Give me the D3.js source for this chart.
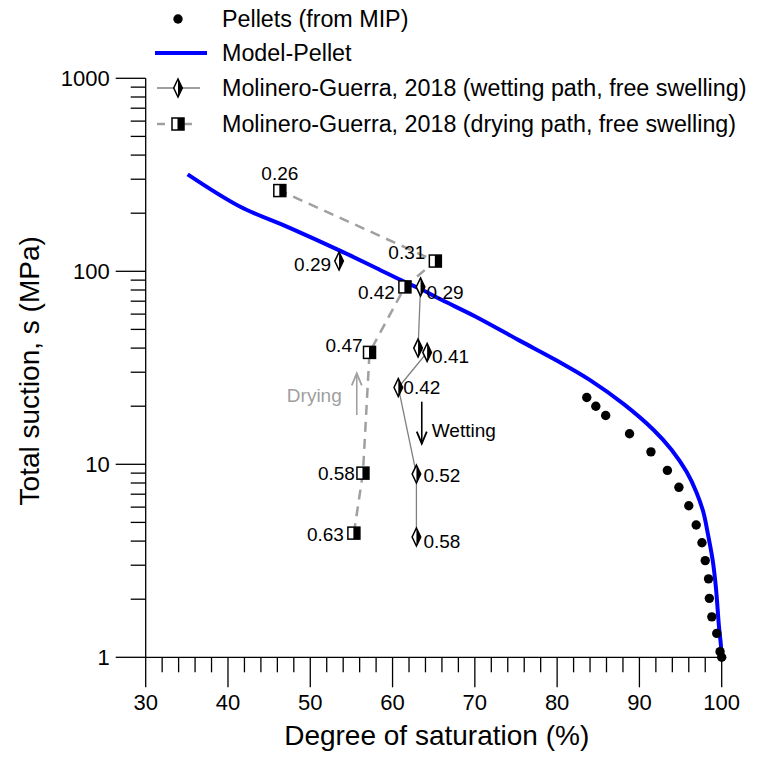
<!DOCTYPE html>
<html><head><meta charset="utf-8">
<script src="https://cdn.jsdelivr.net/npm/d3@7/dist/d3.min.js"></script>
<style>
html,body{margin:0;padding:0;background:#fff;}
text{font-family:"Liberation Sans",Arial,sans-serif;}
</style></head>
<body>
<svg id="chart" width="777" height="762"></svg>
<script>
// ---------------- data ----------------
const pelletsSr = [83.6,84.7,85.9,88.8,91.4,93.4,94.8,96.0,96.9,97.6,98.0,98.4,98.5,98.8,99.4,99.8,100];
const pelletsS  = [22.2,20.0,17.9,14.4,11.6,9.3,7.6,6.1,4.85,3.92,3.17,2.55,2.02,1.62,1.33,1.07,1.0];

const modelSr = [35.1,41.5,47.5,53.6,58,61.5,63.4,66,70,75.5,80,84,88.1,91.7,93.9,95.75,96.95,97.75,98.35,98.9,99.3,99.67,99.9,100];
const modelS  = [318,216,168,128,104,88,81,71,58.5,43.6,34.4,27.3,20.5,15.1,11.9,9.11,7.13,5.69,4.3,3.19,2.29,1.44,1.16,1.0];

// wetting path (first point not linked to the rest)
const wettingSr = [53.5,63.4,63.1,64.2,60.7,62.9,62.9];
const wettingS  = [113,83,40,38,25,8.9,4.2];
const wettingW  = ["0.29","0.29","","0.41","0.42","0.52","0.58"];
const wettingLinked = [false,true,true,true,true,true,true];

// drying path
const dryingSr = [55.3,56.4,57.2,61.5,65.2,46.3];
const dryingS  = [4.4,9.0,38,83,113,262];
const dryingW  = ["0.63","0.58","0.47","0.42","0.31","0.26"];

const xTicks = [30,40,50,60,70,80,90,100];
const yTicks = [1,10,100,1000];

const legendLabels = ["Pellets (from MIP)","Model-Pellet",
  "Molinero-Guerra, 2018 (wetting path, free swelling)",
  "Molinero-Guerra, 2018 (drying path, free swelling)"];

// annotations (Sr, suction from -> to)
const dryArrow = {sr:55.65, from:18.0, to:29.6, label:"Drying", labelS:22.9};
const wetArrow = {sr:63.55, from:21.1, to:12.8, label:"Wetting", labelS:15.1};

// ---------------- layout ----------------
const svg = d3.select("#chart");
const x = d3.scaleLinear().domain([30,100]).range([145.7,721.7]);
const y = d3.scaleLog().domain([1,1000]).range([657.3,78.3]);

// axes
const gx = svg.append("g").attr("transform",`translate(0,${y(1)})`);
const xMinor = d3.range(30,100.01,2);
gx.append("line").attr("x1",x(30)).attr("x2",x(100)).attr("stroke","#000").attr("stroke-width",1.3);
gx.selectAll(".xm").data(xMinor).join("line")
  .attr("x1",d=>x(d)).attr("x2",d=>x(d)).attr("y1",0)
  .attr("y2",d=>xTicks.includes(d)?30:15).attr("stroke","#000").attr("stroke-width",1.3);
gx.selectAll(".xl").data(xTicks).join("text")
  .attr("x",d=>x(d)).attr("y",37).attr("text-anchor","middle")
  .attr("font-size",22).attr("dominant-baseline","hanging").text(d=>d);

const gy = svg.append("g").attr("transform",`translate(${x(30)},0)`);
const yMinor = [];
[1,10,100].forEach(b=>{for(let k=1;k<=9;k++) yMinor.push(b*k);});
yMinor.push(1000);
gy.append("line").attr("y1",y(1000)).attr("y2",y(1)).attr("stroke","#000").attr("stroke-width",1.3);
gy.selectAll(".ym").data(yMinor).join("line")
  .attr("y1",d=>y(d)).attr("y2",d=>y(d)).attr("x1",0)
  .attr("x2",d=>yTicks.includes(d)?-30:-15).attr("stroke","#000").attr("stroke-width",1.3);
gy.selectAll(".yl").data(yTicks).join("text")
  .attr("x",-36).attr("y",d=>y(d)).attr("text-anchor","end")
  .attr("dominant-baseline","central").attr("font-size",22).text(d=>d);

// axis titles
svg.append("text").attr("x",(x(30)+x(100))/2+3).attr("y",745).attr("text-anchor","middle")
  .attr("font-size",28).text("Degree of saturation (%)");
svg.append("text").attr("transform",`translate(39,${(y(1)+y(1000))/2+3}) rotate(-90)`)
  .attr("text-anchor","middle").attr("font-size",28).text("Total suction, s (MPa)");

// model curve
const modelData = modelSr.map((v,i)=>({sr:v,s:modelS[i]}));
svg.append("path").datum(modelData)
  .attr("d",d3.line().x(d=>x(d.sr)).y(d=>y(d.s)).curve(d3.curveCatmullRom.alpha(0.5)))
  .attr("fill","none").attr("stroke","#0000ff").attr("stroke-width",4);

// drying path line
const dryData = dryingSr.map((v,i)=>({sr:v,s:dryingS[i],w:dryingW[i]}));
svg.append("path").datum(dryData)
  .attr("d",d3.line().x(d=>x(d.sr)).y(d=>y(d.s)))
  .attr("fill","none").attr("stroke","#a0a0a0").attr("stroke-width",2.5)
  .attr("stroke-dasharray","10,7");

// wetting path line
const wetData = wettingSr.map((v,i)=>({sr:v,s:wettingS[i],w:wettingW[i],linked:wettingLinked[i]}));
svg.append("path").datum(wetData.filter(d=>d.linked))
  .attr("d",d3.line().x(d=>x(d.sr)).y(d=>y(d.s)))
  .attr("fill","none").attr("stroke","#808080").attr("stroke-width",1.3);

// pellets
svg.selectAll(".pel").data(pelletsSr.map((v,i)=>({sr:v,s:pelletsS[i]}))).join("circle")
  .attr("cx",d=>x(d.sr)).attr("cy",d=>y(d.s)).attr("r",4.7).attr("fill","#000");

// marker helpers
function diamond(g,cx,cy){
  g.append("path").attr("d",`M${cx},${cy-9}L${cx+4.3},${cy}L${cx},${cy+9}L${cx-4.3},${cy}Z`)
    .attr("fill","#fff").attr("stroke","#000").attr("stroke-width",1.5);
  g.append("path").attr("d",`M${cx},${cy-9}L${cx+4.3},${cy}L${cx},${cy+9}Z`).attr("fill","#000");
}
function square(g,cx,cy){
  g.append("rect").attr("x",cx-6).attr("y",cy-6).attr("width",12).attr("height",12)
    .attr("fill","#fff").attr("stroke","#000").attr("stroke-width",1.5);
  g.append("rect").attr("x",cx-0.5).attr("y",cy-6).attr("width",6.5).attr("height",12).attr("fill","#000");
}

const mk = svg.append("g");
wetData.forEach(d=>diamond(mk,x(d.sr),y(d.s)));
dryData.forEach(d=>square(mk,x(d.sr),y(d.s)));

// water content labels (placement styling)
const wetLabelPos = [["end",-8,10],["start",6,12],["start",0,0],["start",5,11],["start",5,7],["start",7,8],["start",7,11]];
const dryLabelPos = [["end",-10,8],["end",-8,7],["end",-7,0],["end",-10,12],["end",-10,-2],["middle",0,-11]];
const lab = svg.append("g").attr("font-size",19);
wetData.forEach((d,i)=>{ if(!d.w) return; const p=wetLabelPos[i];
  lab.append("text").attr("x",x(d.sr)+p[1]).attr("y",y(d.s)+p[2]).attr("text-anchor",p[0]).text(d.w);});
dryData.forEach((d,i)=>{ const p=dryLabelPos[i];
  lab.append("text").attr("x",x(d.sr)+p[1]).attr("y",y(d.s)+p[2]).attr("text-anchor",p[0]).text(d.w);});

// arrows
function arrow(color, a){
  const ax=x(a.sr), y0=y(a.from), y1=y(a.to);
  const dir = y1<y0 ? 1 : -1;
  svg.append("line").attr("x1",ax).attr("x2",ax).attr("y1",y0).attr("y2",y1)
    .attr("stroke",color).attr("stroke-width",1.6);
  svg.append("path").attr("d",`M${ax-5},${y1+dir*12}L${ax},${y1}L${ax+5},${y1+dir*12}`)
    .attr("fill","none").attr("stroke",color).attr("stroke-width",1.8);
}
arrow("#a0a0a0", dryArrow);
arrow("#000", wetArrow);
svg.append("text").attr("x",x(dryArrow.sr)-15).attr("y",y(dryArrow.labelS)+7).attr("text-anchor","end")
  .attr("font-size",19).attr("fill","#a0a0a0").text(dryArrow.label);
svg.append("text").attr("x",x(wetArrow.sr)+10).attr("y",y(wetArrow.labelS)+7).attr("text-anchor","start")
  .attr("font-size",19).attr("fill","#000").text(wetArrow.label);

// legend
const lg = svg.append("g");
const rowsY = [19,53,88,124];
const symX = 178, txtX = 222;
lg.append("circle").attr("cx",symX).attr("cy",rowsY[0]).attr("r",4.7).attr("fill","#000");
lg.append("line").attr("x1",155).attr("x2",207).attr("y1",rowsY[1]).attr("y2",rowsY[1])
  .attr("stroke","#0000ff").attr("stroke-width",4);
lg.append("line").attr("x1",157).attr("x2",200).attr("y1",rowsY[2]).attr("y2",rowsY[2])
  .attr("stroke","#808080").attr("stroke-width",1.3);
diamond(lg,symX,rowsY[2]);
lg.append("line").attr("x1",157).attr("x2",192).attr("y1",rowsY[3]).attr("y2",rowsY[3])
  .attr("stroke","#a0a0a0").attr("stroke-width",2.5).attr("stroke-dasharray","8,19");
square(lg,symX,rowsY[3]);
legendLabels.forEach((t,i)=>{
  lg.append("text").attr("x",txtX).attr("y",rowsY[i]).attr("dominant-baseline","central")
    .attr("font-size",23.3).text(t);
});
</script>
</body></html>
